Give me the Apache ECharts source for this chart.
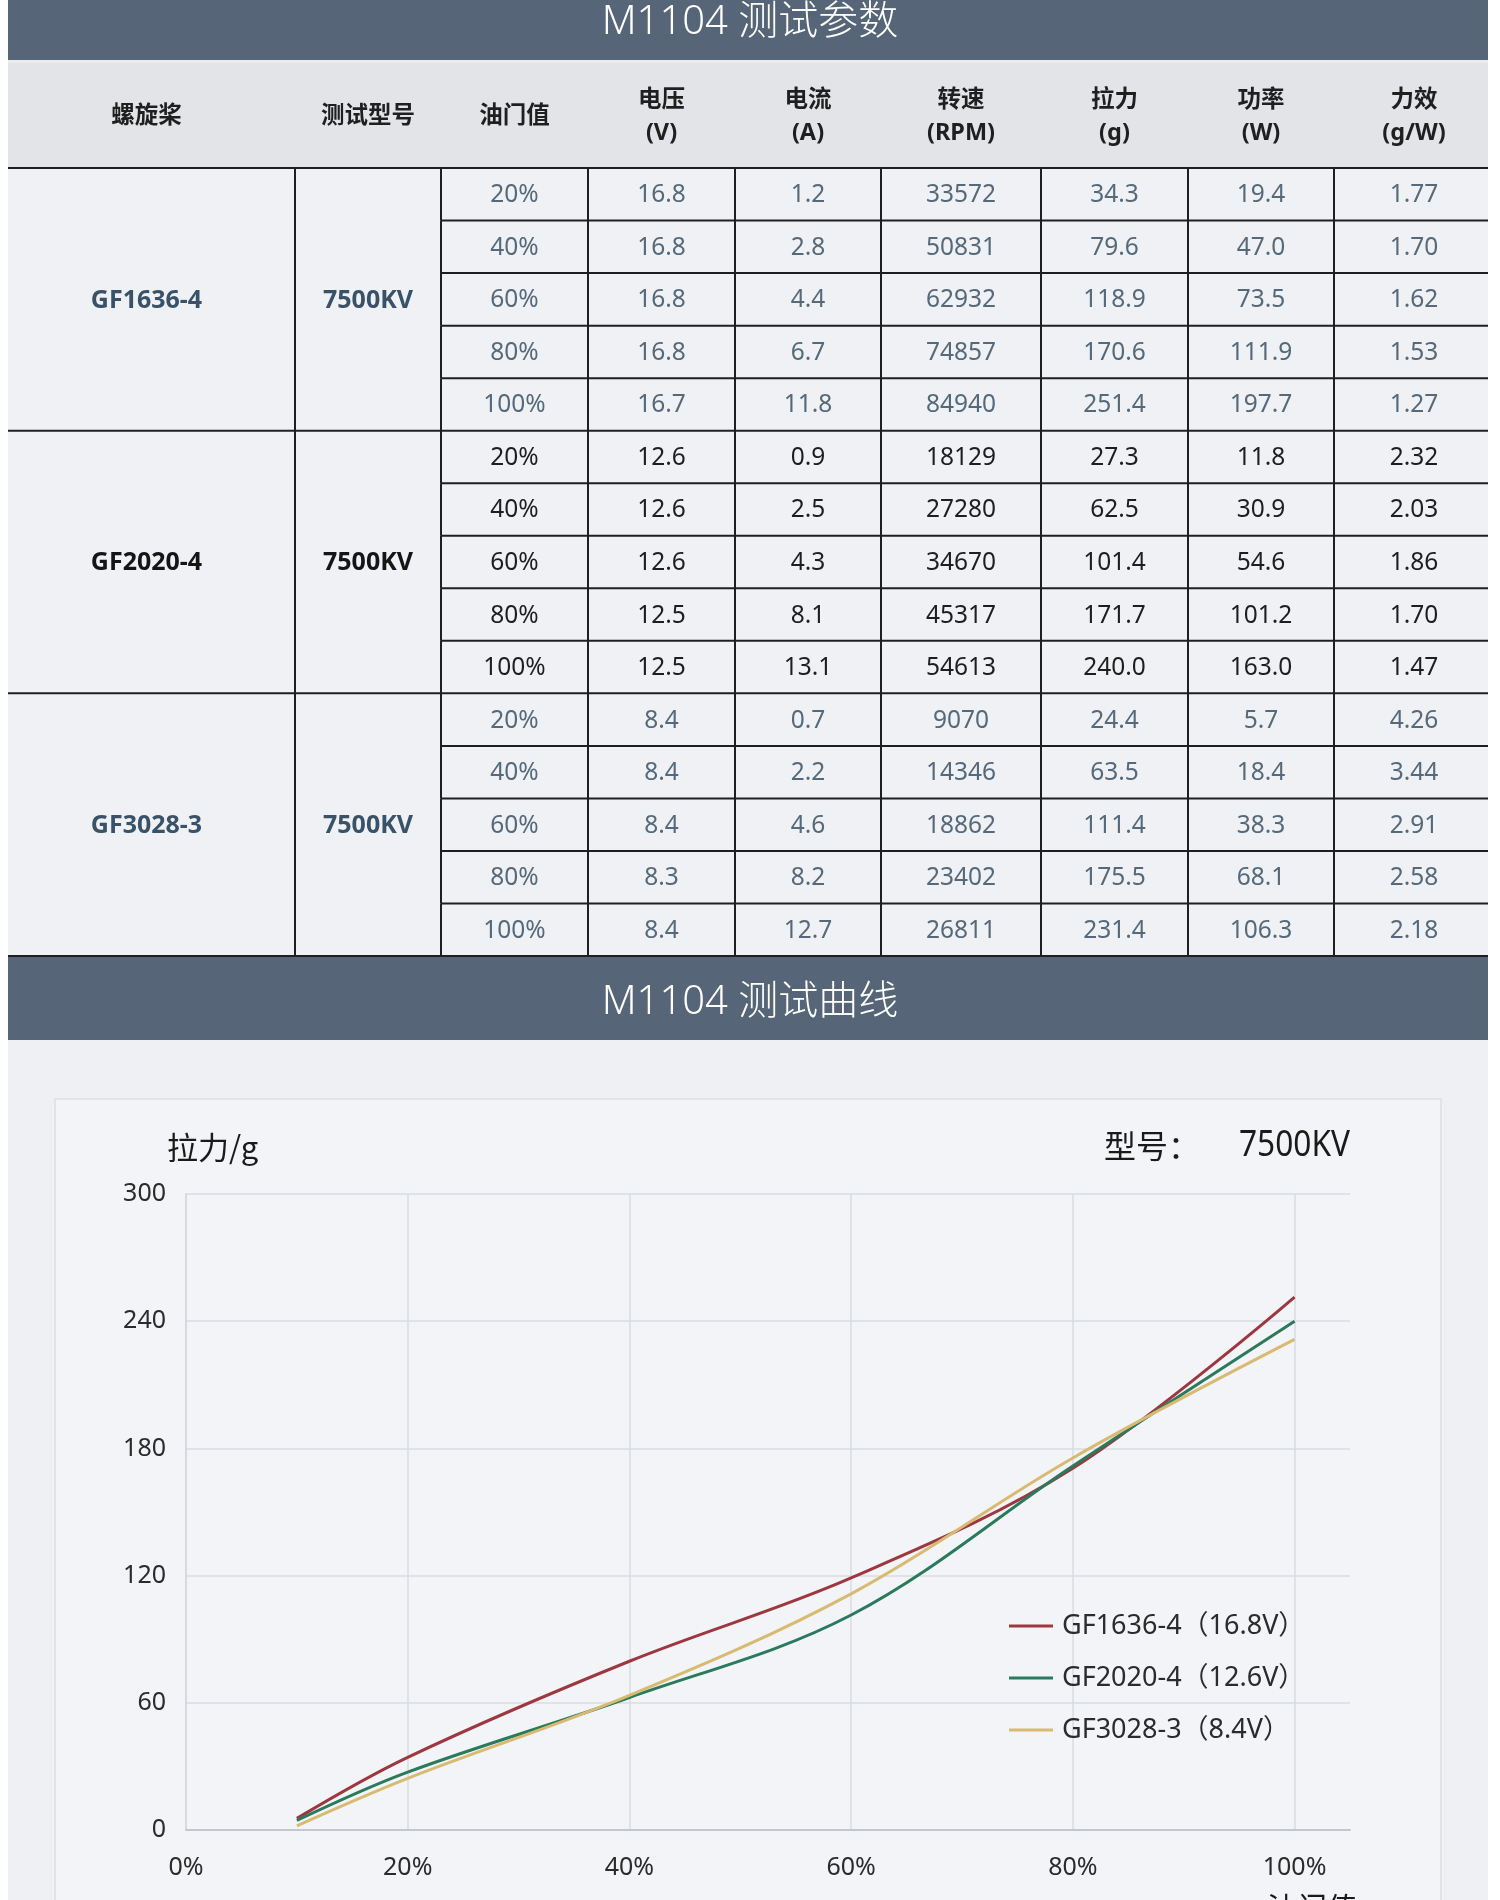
<!DOCTYPE html>
<html>
<head>
<meta charset="utf-8">
<script src="https://cdn.jsdelivr.net/npm/echarts@6/dist/echarts.min.js"></script>
<style>
html,body{margin:0;padding:0;background:#ffffff;}
#main{width:1500px;height:1900px;}
</style>
</head>
<body>
<div id="main"></div>
<script>
// ---------------- data ----------------
const propellers = ['GF1636-4', 'GF2020-4', 'GF3028-3'];
const motorModels = ['7500KV', '7500KV', '7500KV'];
const legendVoltages = ['16.8V', '12.6V', '8.4V'];
const throttlePct = [20, 40, 60, 80, 100];
const headerLabels = ['螺旋桨', '测试型号', '油门值', '电压\n(V)', '电流\n(A)', '转速\n(RPM)', '拉力\n(g)', '功率\n(W)', '力效\n(g/W)'];
const voltageV = [16.8, 16.8, 16.8, 16.8, 16.7, 12.6, 12.6, 12.6, 12.5, 12.5, 8.4, 8.4, 8.4, 8.3, 8.4];
const currentA = [1.2, 2.8, 4.4, 6.7, 11.8, 0.9, 2.5, 4.3, 8.1, 13.1, 0.7, 2.2, 4.6, 8.2, 12.7];
const speedRPM = [33572, 50831, 62932, 74857, 84940, 18129, 27280, 34670, 45317, 54613, 9070, 14346, 18862, 23402, 26811];
const thrustG = [34.3, 79.6, 118.9, 170.6, 251.4, 27.3, 62.5, 101.4, 171.7, 240.0, 24.4, 63.5, 111.4, 175.5, 231.4];
const powerW = [19.4, 47.0, 73.5, 111.9, 197.7, 11.8, 30.9, 54.6, 101.2, 163.0, 5.7, 18.4, 38.3, 68.1, 106.3];
const efficiencyGW = [1.77, 1.70, 1.62, 1.53, 1.27, 2.32, 2.03, 1.86, 1.70, 1.47, 4.26, 3.44, 2.91, 2.58, 2.18];
const curveStartThrottle = 10;
const curveStartThrust = [5.5, 4.5, 2.0];
const tableTitle = 'M1104 测试参数';
const chartTitle = 'M1104 测试曲线';
const yAxisTitle = '拉力/g';
const modelLabel = '型号：';
const modelValue = '7500KV';
const xAxisTitle = '油门值';

// ---------------- layout / style ----------------
const FONT = "'Noto Sans', 'Noto Sans CJK SC', sans-serif";
const colWidths = [287, 146, 147, 147, 146, 160, 147, 146, 154];
const colTextShift = [-5, 0, 0, 0, 0, 0, 0, 0, 3];
const colEdges = [0];
colWidths.forEach(w => colEdges.push(colEdges[colEdges.length - 1] + w));
const lineColors = ['#9e3840', '#2b7a5c', '#d8ba72'];
const blockNameColor = ['#3a5268', '#151515', '#3a5268'];
const blockValueColor = ['#55697b', '#1e1e1e', '#55697b'];

// ---------------- table cells ----------------
const cells = [];
headerLabels.forEach((h, i) => cells.push({c0: i, c1: i + 1, r0: 0, r1: 2, text: h, kind: 'header'}));
propellers.forEach((p, b) => {
  const r0 = 2 + 5 * b;
  cells.push({c0: 0, c1: 1, r0: r0, r1: r0 + 5, text: p, kind: 'name', block: b});
  cells.push({c0: 1, c1: 2, r0: r0, r1: r0 + 5, text: motorModels[b], kind: 'name', block: b});
  throttlePct.forEach((t, k) => {
    const idx = b * 5 + k;
    const r = r0 + k;
    const vals = [t + '%', voltageV[idx].toFixed(1), currentA[idx].toFixed(1), String(speedRPM[idx]),
                  thrustG[idx].toFixed(1), powerW[idx].toFixed(1), efficiencyGW[idx].toFixed(2)];
    vals.forEach((v, j) => cells.push({c0: 2 + j, c1: 3 + j, r0: r, r1: r + 1, text: v, kind: 'value', block: b}));
  });
});

function renderCell(params, api) {
  const c = cells[params.dataIndex];
  const p0 = api.coord([api.value(0), api.value(1)]);
  const p1 = api.coord([api.value(2), api.value(3)]);
  const x0 = p0[0], y0 = p0[1], x1 = p1[0], y1 = p1[1];
  const ch = [];
  ch.push({type: 'rect', z2: 0, shape: {x: x0, y: y0, width: x1 - x0, height: y1 - y0},
           style: {fill: c.kind === 'header' ? '#e2e4e7' : '#eff1f4'}});
  ch.push({type: 'line', z2: 10, shape: {x1: x0, y1: y1, x2: x1, y2: y1}, style: {stroke: '#1f1f1f', lineWidth: 2}});
  if (c.kind !== 'header' && c.c0 > 0) {
    ch.push({type: 'line', z2: 10, shape: {x1: x0, y1: y0, x2: x0, y2: y1}, style: {stroke: '#1f1f1f', lineWidth: 2}});
  }
  let fill = '#1f1f1f', weight = 'bold', size = 23.5, lh = 33;
  if (c.kind === 'name') { fill = blockNameColor[c.block]; weight = 'bold'; size = 25; }
  if (c.kind === 'value') { fill = blockValueColor[c.block]; weight = 'normal'; size = 24.5; }
  ch.push({type: 'text', z2: 20, style: {x: (x0 + x1) / 2 + colTextShift[c.c0], y: (y0 + y1) / 2 + 1, text: c.text,
           align: 'center', verticalAlign: 'middle', textAlign: 'center', textVerticalAlign: 'middle',
           fontSize: size, fontWeight: weight, fontFamily: FONT, lineHeight: lh, fill: fill}});
  return {type: 'group', children: ch};
}

const tableSeries = {
  type: 'custom',
  xAxisIndex: 0, yAxisIndex: 0,
  renderItem: renderCell,
  clip: false,
  silent: true,
  encode: {x: [0, 2], y: [1, 3]},
  data: cells.map(c => [colEdges[c.c0], c.r0, colEdges[c.c1], c.r1])
};

const lineSeries = propellers.map((p, i) => ({
  name: p + '（' + legendVoltages[i] + '）',
  type: 'line',
  xAxisIndex: 1, yAxisIndex: 1,
  smooth: 0.35,
  showSymbol: false,
  symbol: 'none',
  lineStyle: {width: 3, color: lineColors[i]},
  itemStyle: {color: lineColors[i]},
  data: [[curveStartThrottle, curveStartThrust[i]]].concat(throttlePct.map((t, k) => [t, thrustG[i * 5 + k]]))
}));

const chart = echarts.init(document.getElementById('main'));
chart.setOption({
  animation: false,
  backgroundColor: '#ffffff',
  textStyle: {fontFamily: FONT},
  graphic: [
    {type: 'rect', z: -10, shape: {x: 8, y: 0, width: 1480, height: 60}, style: {fill: '#566578'}},
    {type: 'rect', z: -10, shape: {x: 8, y: 60, width: 1480, height: 4}, style: {fill: '#e9ebee'}},
    {type: 'rect', z: -10, shape: {x: 8, y: 957, width: 1480, height: 83}, style: {fill: '#566578'}},
    {type: 'rect', z: -10, shape: {x: 8, y: 1040, width: 1480, height: 860}, style: {fill: '#eef0f4'}},
    {type: 'rect', z: -9, shape: {x: 55, y: 1099, width: 1386, height: 830}, style: {fill: '#f3f4f7', stroke: '#dcdfe4', lineWidth: 1.5}},
    {type: 'text', z: 5, style: {x: 750, y: 23, text: tableTitle, align: 'center', verticalAlign: 'middle', fontSize: 40, fontWeight: 300, fontFamily: FONT, fill: '#ffffff'}},
    {type: 'text', z: 5, style: {x: 750, y: 1003, text: chartTitle, align: 'center', verticalAlign: 'middle', fontSize: 40, fontWeight: 300, fontFamily: FONT, fill: '#ffffff'}},
    {type: 'text', z: 5, style: {x: 167, y: 1147, text: yAxisTitle, align: 'left', verticalAlign: 'middle', fontSize: 31, fontFamily: "'Noto Sans CJK SC', sans-serif", fill: '#1a1a1a'}},
    {type: 'text', z: 5, style: {x: 1104, y: 1146, text: modelLabel, align: 'left', verticalAlign: 'middle', fontSize: 32, fontFamily: "'Noto Sans CJK SC', sans-serif", fill: '#1a1a1a'}},
    {type: 'text', z: 5, x: 1350, y: 1146, scaleX: 0.88, style: {x: 0, y: 0, text: modelValue, align: 'right', verticalAlign: 'middle', fontSize: 36, fontFamily: "'Noto Sans', sans-serif", fill: '#1a1a1a'}},
    {type: 'text', z: 5, style: {x: 1312, y: 1893, text: xAxisTitle, align: 'center', verticalAlign: 'top', fontSize: 30, fontFamily: "'Noto Sans CJK SC', sans-serif", fill: '#1a1a1a'}}
  ],
  grid: [
    {left: 8, top: 63, width: 1480, height: 893},
    {left: 186, top: 1194, right: 150, bottom: 70}
  ],
  xAxis: [
    {gridIndex: 0, type: 'value', min: 0, max: colEdges[colEdges.length - 1], show: false},
    {gridIndex: 1, type: 'value', min: 0, max: 105, interval: 20,
     axisLine: {show: true, lineStyle: {color: '#c4c7cc', width: 2}},
     axisTick: {show: false},
     axisLabel: {fontSize: 25, color: '#2b2b2b', margin: 25, formatter: v => (v <= 100 ? v + '%' : '')},
     splitLine: {show: true, showMinLine: false, showMaxLine: false, lineStyle: {color: '#d9dce0', width: 1.5}}}
  ],
  yAxis: [
    {gridIndex: 0, type: 'value', min: 0, max: 17, inverse: true, show: false},
    {gridIndex: 1, type: 'value', min: 0, max: 300, interval: 60,
     axisLine: {show: true, lineStyle: {color: '#cdd0d5', width: 1.5}},
     axisTick: {show: false},
     axisLabel: {fontSize: 25, color: '#2b2b2b', margin: 20},
     splitLine: {show: true, showMinLine: false, lineStyle: {color: '#d9dce0', width: 1.5}}}
  ],
  legend: {
    orient: 'vertical',
    left: 1004, top: 1606,
    icon: 'rect',
    itemWidth: 44, itemHeight: 3,
    itemGap: 22,
    selectedMode: false,
    textStyle: {fontSize: 27, color: '#2b2b2b', lineHeight: 30, padding: [0, 0, 0, 4]},
    data: lineSeries.map(s => s.name)
  },
  series: [tableSeries].concat(lineSeries)
});
</script>
</body>
</html>
